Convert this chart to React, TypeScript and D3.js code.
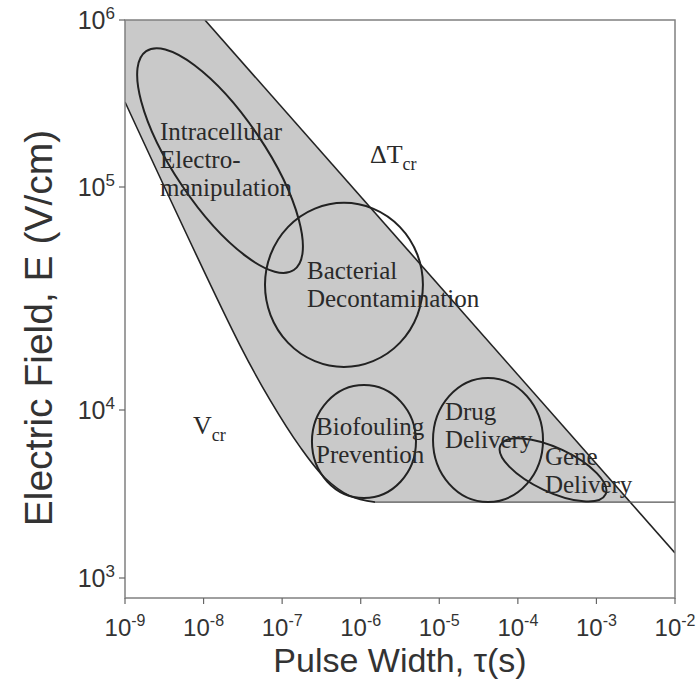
import React from 'react';
import * as d3 from 'd3';

// axis ticks (powers of ten)
const tauTicks = [-9, -8, -7, -6, -5, -4, -3, -2];
const eTicks = [3, 4, 5, 6];

// V_cr boundary (lower-left)
const vcrTau = [1e-9, 2.91e-8, 7.0e-8, 1.69e-7, 3.51e-7, 7.31e-7, 1.52e-6];
const vcrE = [3.23e5, 1.95e4, 1.11e4, 6.03e3, 3.94e3, 3.08e3, 2.83e3];

// ΔT_cr boundary (upper-right)
const dtTau = [1.04e-8, 1e-2];
const dtE = [1e6, 1.41e3];

// minimum field (horizontal)
const floorTau = [1.52e-6, 1e-2];
const floorE = [2.83e3, 2.83e3];

// application regions: centre, semi-axes (decades of tau), tilt (deg)
const regionTau = [1.62e-8, 6.12e-7, 1.1e-6, 4.17e-5, 2.8e-4];
const regionE = [1.44e5, 3.64e4, 6.49e3, 6.63e3, 4.4e3];
const regionA = [1.68, 1.005, 0.662, 0.7, 0.738];
const regionB = [0.579, 1.044, 0.719, 0.789, 0.28];
const regionTilt = [56, 0, 0, 0, 25];

// region labels
const regionLabels = [
  ['Intracellular', 'Electro-', 'manipulation'],
  ['Bacterial', 'Decontamination'],
  ['Biofouling', 'Prevention'],
  ['Drug', 'Delivery'],
  ['Gene', 'Delivery'],
];
const labelTau = [2.79e-9, 2.07e-7, 2.7e-7, 1.18e-5, 2.21e-4];
const labelE = [1.91e5, 3.86e4, 7.1e3, 8.71e3, 4.71e3];

const W = 700;
const H = 680;
const m = { left: 125, right: 25, top: 20, bottom: 82 };

const App: React.FC = () => {
  const x = d3.scaleLog().domain([1e-9, 1e-2]).range([m.left, W - m.right]);
  // decades on the printed axis are not evenly spaced; follow its tick marks
  const yLog = d3.scaleLinear().domain(eTicks).range([578, 410, 187, 20]);
  const y = (e: number) => yLog(Math.log10(e));

  const plotB = H - m.bottom;
  const decX = x(1e-8) - x(1e-9);

  const line = d3.line<[number, number]>()
    .x(d => x(d[0]))
    .y(d => y(d[1]));

  const curved = d3.line<[number, number]>()
    .x(d => x(d[0]))
    .y(d => y(d[1]))
    .curve(d3.curveCatmullRom.alpha(0.5));

  const vcrPts: [number, number][] = vcrTau.map((t, i) => [t, vcrE[i]]);
  const dtPts: [number, number][] = dtTau.map((t, i) => [t, dtE[i]]);
  const floorPts: [number, number][] = floorTau.map((t, i) => [t, floorE[i]]);

  // where ΔT line meets the floor (pixel space)
  const x0 = x(dtTau[0]), y0 = y(dtE[0]);
  const x1 = x(dtTau[1]), y1 = y(dtE[1]);
  const yf = y(floorE[0]);
  const xCross = x0 + (yf - y0) * (x1 - x0) / (y1 - y0);

  const vcrPath = curved(vcrPts) || '';
  const vcrRev = (curved(vcrPts.slice().reverse()) || '').replace(/^M/, 'L');
  const shade =
    `M${x(1e-9)},${y(1e6)}` +
    `L${x0},${y0}` +
    `L${xCross},${yf}` +
    `L${x(floorTau[0])},${yf}` +
    vcrRev +
    'Z';

  const serif = '"Liberation Serif", "Times New Roman", serif';
  const sans = '"Liberation Sans", Arial, sans-serif';

  return (
    <div style={{ position: 'absolute', left: 0, top: 0 }}>
      <svg width={W} height={H} style={{ display: 'block', background: '#fff' }}>
        <defs>
          <clipPath id="plotClip">
            <rect x={m.left} y={m.top} width={W - m.left - m.right} height={plotB - m.top} />
          </clipPath>
        </defs>

        <g clipPath="url(#plotClip)">
          <path d={shade} fill="#c9c9c9" stroke="none" />
          <path d={vcrPath} fill="none" stroke="#222" strokeWidth={1.6} />
          <path d={line(dtPts) || ''} fill="none" stroke="#222" strokeWidth={1.6} />
          <path d={line(floorPts) || ''} fill="none" stroke="#555" strokeWidth={1.4} />
          {regionTau.map((t, i) => {
            const cx = x(t);
            const cy = y(regionE[i]);
            return (
              <ellipse key={i} cx={cx} cy={cy} rx={regionA[i] * decX} ry={regionB[i] * decX}
                transform={`rotate(${regionTilt[i]},${cx},${cy})`}
                fill="none" stroke="#222" strokeWidth={2} />
            );
          })}
        </g>

        {/* frame */}
        <rect x={m.left} y={m.top} width={W - m.left - m.right} height={plotB - m.top}
          fill="none" stroke="#808080" strokeWidth={1.5} />

        {/* x ticks */}
        {tauTicks.map(p => (
          <g key={p} transform={`translate(${x(Math.pow(10, p))},${plotB})`}>
            <line y1={0} y2={6} stroke="#666" strokeWidth={1.2} />
            <text y={38} textAnchor="middle" fontFamily={sans} fontSize={24} fill="#333">
              10<tspan dy={-10} fontSize={16}>{p}</tspan>
            </text>
          </g>
        ))}

        {/* y ticks */}
        {eTicks.map(p => (
          <g key={p} transform={`translate(${m.left},${y(Math.pow(10, p))})`}>
            <line x1={-6} x2={0} stroke="#666" strokeWidth={1.2} />
            <text x={-10} y={9} textAnchor="end" fontFamily={sans} fontSize={25} fill="#333">
              10<tspan dy={-10} fontSize={17}>{p}</tspan>
            </text>
          </g>
        ))}

        {/* axis titles */}
        <text x={(m.left + W - m.right) / 2} y={672} textAnchor="middle" fontFamily={sans} fontSize={34} fill="#333">
          Pulse Width, τ(s)
        </text>
        <text transform={`translate(52,328) rotate(-90)`} textAnchor="middle"
          fontFamily={sans} fontSize={39} fill="#333">
          Electric Field, E (V/cm)
        </text>

        {/* region labels */}
        {regionLabels.map((lines, i) => (
          <text key={i} x={x(labelTau[i])} y={y(labelE[i])} fontFamily={serif} fontSize={25} fill="#2a2a2a">
            {lines.map((l, j) => (
              <tspan key={j} x={x(labelTau[i])} dy={j === 0 ? 0 : 28}>{l}</tspan>
            ))}
          </text>
        ))}

        {/* boundary labels */}
        <text x={x(1.31e-6)} y={y(1.39e5)} fontFamily={serif} fontSize={26} fill="#2a2a2a">
          ΔT<tspan dy={7} fontSize={18}>cr</tspan>
        </text>
        <text x={x(7.33e-9)} y={y(7.2e3)} fontFamily={serif} fontSize={26} fill="#2a2a2a">
          V<tspan dy={7} fontSize={18}>cr</tspan>
        </text>
      </svg>
    </div>
  );
};

export default App;
